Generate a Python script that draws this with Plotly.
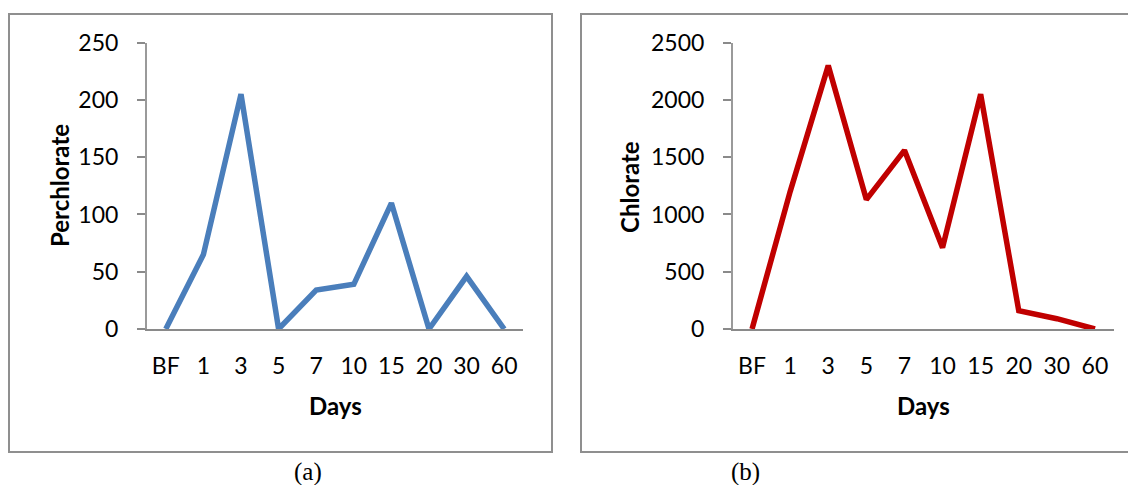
import plotly.graph_objects as go

days = ["BF", "1", "3", "5", "7", "10", "15", "20", "30", "60"]
perchlorate = [0, 65, 205, 0, 34, 39, 110, 0, 46, 0]
chlorate = [0, 1200, 2300, 1130, 1560, 710, 2050, 160, 90, 0]
perchlorate_ticks = [0, 50, 100, 150, 200, 250]
chlorate_ticks = [0, 500, 1000, 1500, 2000, 2500]

W, H = 1128, 485
def px(x):
    return x / W
def py(y):
    return 1 - y / H

TICKFONT = dict(family="Lato, 'Open Sans', sans-serif", size=23, color="black")
TITLEFONT = dict(family="Lato, 'Open Sans', sans-serif", size=24, color="black")
CAPFONT = dict(family="'Liberation Serif', 'Times New Roman', serif", size=25, color="black")

fig = go.Figure()
fig.add_trace(go.Scatter(x=days, y=perchlorate, mode="lines",
                         line=dict(color="#4A7EBB", width=5.5),
                         xaxis="x", yaxis="y", showlegend=False))
fig.add_trace(go.Scatter(x=days, y=chlorate, mode="lines",
                         line=dict(color="#C00000", width=5.5),
                         xaxis="x2", yaxis="y2", showlegend=False))

xcommon = dict(type="category", categoryorder="array", categoryarray=days,
               range=[-0.5, 9.5], showgrid=False, zeroline=False,
               showline=True, linecolor="#8a8a8a", linewidth=2,
               ticks="", tickfont=TICKFONT, ticklabelstandoff=15,
               automargin=False, fixedrange=True)
ycommon = dict(showgrid=False, zeroline=False, showline=True,
               linecolor="#9a9a9a", linewidth=2, ticks="outside",
               ticklen=8, tickwidth=2, tickcolor="#8a8a8a",
               tickfont=TICKFONT, ticklabelstandoff=14,
               automargin=False, fixedrange=True)

ydom = [py(329), py(42.7)]
fig.update_layout(
    width=W, height=H, autosize=False,
    margin=dict(l=0, r=0, t=0, b=0, pad=0, autoexpand=False),
    paper_bgcolor="white", plot_bgcolor="white",
    xaxis=dict(domain=[px(147), px(523)], anchor="y", **xcommon),
    yaxis=dict(domain=ydom, anchor="x", range=[0, 250],
               tickvals=perchlorate_ticks, **ycommon),
    xaxis2=dict(domain=[px(733), px(1114)], anchor="y2", **xcommon),
    yaxis2=dict(domain=ydom, anchor="x2", range=[0, 2500],
                tickvals=chlorate_ticks, **ycommon),
)

# panel borders
for x0, x1 in [(9, 552), (581, 1140)]:
    fig.add_shape(type="rect", xref="paper", yref="paper",
                  x0=px(x0), x1=px(x1), y0=py(452), y1=py(14),
                  line=dict(color="#8f8f8f", width=2), layer="below")

anns = [
    dict(text="<b>Perchlorate</b>", x=px(60), y=py(186), textangle=-90, font=TITLEFONT),
    dict(text="<b>Days</b>", x=px(335), y=py(405), font=TITLEFONT),
    dict(text="<b>Chlorate</b>", x=px(630), y=py(187), textangle=-90, font=TITLEFONT),
    dict(text="<b>Days</b>", x=px(923), y=py(405), font=TITLEFONT),
    dict(text="(a)", x=px(308), y=py(472), font=CAPFONT),
    dict(text="(b)", x=px(745), y=py(472), font=CAPFONT),
]
for a in anns:
    fig.add_annotation(xref="paper", yref="paper", showarrow=False,
                       xanchor="center", yanchor="middle", **a)

fig.write_html("out.html", config={"responsive": False})
